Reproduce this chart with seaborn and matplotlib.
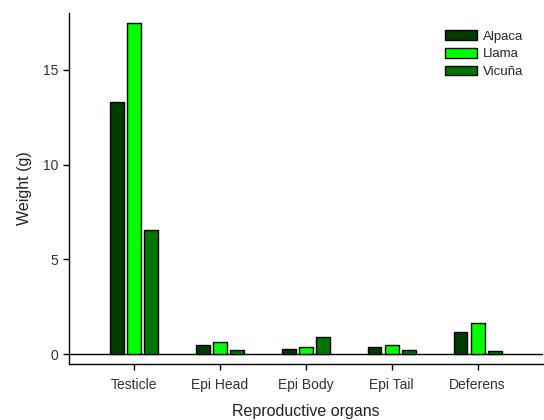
import matplotlib
matplotlib.use("Agg")
import matplotlib.pyplot as plt
import seaborn as sns
import pandas as pd

# Organ weights (g) per species
organs = ["Testicle", "Epi Head", "Epi Body", "Epi Tail", "Deferens"]
species = ["Alpaca", "Llama", "Vicuña"]
alpaca = [13.33, 0.50, 0.27, 0.40, 1.15]
llama = [17.48, 0.66, 0.36, 0.49, 1.65]
vicuna = [6.54, 0.24, 0.92, 0.20, 0.17]

colors = ["#003c00", "#00ff00", "#007800"]

df = pd.DataFrame({
    "organ": organs * 3,
    "species": [species[0]] * 5 + [species[1]] * 5 + [species[2]] * 5,
    "weight": alpaca + llama + vicuna,
})

sns.set_style("ticks")
plt.rcParams["font.family"] = ["Liberation Sans", "DejaVu Sans"]

fig = plt.figure(figsize=(5.44, 4.2), dpi=100)
ax = fig.add_axes([0.127, 0.134, 0.871, 0.835])

sns.barplot(data=df, x="organ", y="weight", hue="species", order=organs,
            hue_order=species, palette=colors, saturation=1, width=0.6,
            gap=0.2, edgecolor="black", linewidth=1.0, ax=ax)

ax.axhline(0, color="black", linewidth=1.0, zorder=0)
ax.set_xlim(-0.757, 4.76)
ax.set_ylim(-0.5, 18.0)
ax.set_yticks([0, 5, 10, 15])
ax.tick_params(axis="both", labelsize=10, direction="out", length=4,
               width=1.0, color="black", labelcolor="#333333")
ax.tick_params(axis="x", pad=6)
ax.set_xlabel("Reproductive organs", fontsize=11.5, color="#222222")
ax.xaxis.set_label_coords(0.5, -0.115)
ax.set_ylabel("Weight (g)", fontsize=11.5, labelpad=8, color="#222222")
for side in ("top", "right"):
    ax.spines[side].set_visible(False)
for side in ("left", "bottom"):
    ax.spines[side].set_color("black")
    ax.spines[side].set_linewidth(1.0)

ax.legend(loc="upper left", bbox_to_anchor=(0.768, 0.985), frameon=False,
          fontsize=9.5, handlelength=2.4, handleheight=0.75,
          labelspacing=0.4, handletextpad=0.5)

fig.savefig("out.png", dpi=100)
